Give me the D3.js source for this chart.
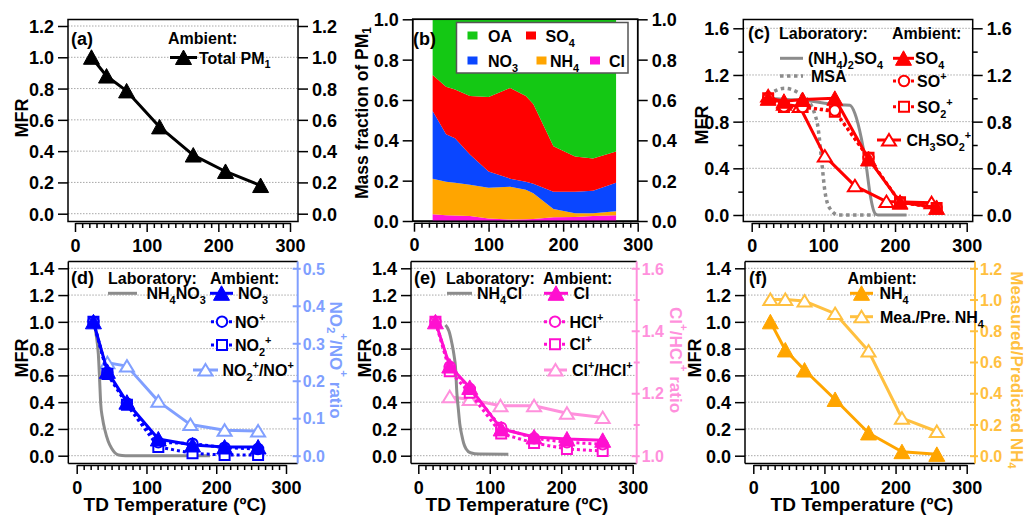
<!DOCTYPE html>
<html><head><meta charset="utf-8">
<script src="https://cdn.jsdelivr.net/npm/d3@7"></script>
<style>
body{margin:0;background:#fff}
svg{display:block}
text{font-family:"Liberation Sans",Arial,sans-serif;font-weight:bold}
</style>
</head><body>
<script>
// ================= DATA =================
const xTickValues = [0, 100, 200, 300];
const mfrTicksA = [0, 0.2, 0.4, 0.6, 0.8, 1.0, 1.2];
const fracTicksB = [0, 0.2, 0.4, 0.6, 0.8, 1.0];
const mfrTicksC = [0, 0.4, 0.8, 1.2, 1.6];
const mfrMinorC = [0.2, 0.6, 1.0, 1.4];
const mfrTicksLow = [0, 0.2, 0.4, 0.6, 0.8, 1.0, 1.2, 1.4];
const ratioTicksD = [0, 0.1, 0.2, 0.3, 0.4, 0.5];
const ratioTicksE = [1.0, 1.2, 1.4, 1.6];
const ratioMinorE = [1.1, 1.3, 1.5];
const ratioTicksF = [0, 0.2, 0.4, 0.6, 0.8, 1.0, 1.2];

// (a) total PM1
const tempA = [23, 44, 72, 118, 165, 210, 259];
const totalPM1 = [1.0, 0.88, 0.785, 0.555, 0.375, 0.27, 0.18];

// (b) mass fractions
const speciesB = ["Cl", "NH4", "NO3", "SO4", "OA"];
const tempB = [25, 43, 55, 75, 100, 129, 150, 160, 187, 216, 240, 271];
const fracCl  = [.033, .028, .027, .025, .013, .008, .009, .010, .018, .020, .025, .028];
const fracNH4 = [.177, .167, .163, .155, .152, .162, .146, .127, .042, .018, .013, .020];
const fracNO3 = [.335, .235, .220, .150, .080, .040, .040, .048, .085, .107, .112, .142];
const fracSO4 = [.179, .235, .242, .290, .370, .450, .425, .395, .225, .175, .160, .155];
const fracOA  = [.276, .335, .348, .380, .385, .340, .380, .420, .630, .680, .690, .655];

// (c) sulfate
const tempC = [23, 45, 71, 116, 163, 207, 258];
const so4C = [1.0, 0.975, 0.99, 1.0, 0.48, 0.11, 0.065];
const soPlusC = [1.0, 0.93, 0.925, 0.895, 0.49, 0.11, 0.06];
const so2PlusC = [1.0, 0.925, 0.925, 0.885, 0.49, 0.11, 0.06];
const tempCH3 = [23, 45, 67, 102, 144, 188, 251];
const ch3so2C = [1.02, 0.95, 0.93, 0.505, 0.25, 0.115, 0.105];
const tempAS = [23, 50, 79, 102, 125, 137, 144, 153, 160, 165, 172, 176, 216];
const labAS = [1.0, 0.99, 0.98, 0.957, 0.943, 0.94, 0.87, 0.657, 0.414, 0.186, 0.014, 0.0, 0.0];
const tempMSA = [23, 35, 46, 67, 80, 86, 93, 98, 102, 109, 121, 172];
const labMSA = [1.03, 1.07, 1.086, 1.04, 0.97, 0.9, 0.73, 0.44, 0.21, 0.057, 0.0, 0.0];

// (d) nitrate
const tempD = [24, 44, 72, 117, 166, 212, 260];
const no3D = [1.0, 0.63, 0.40, 0.125, 0.08, 0.065, 0.065];
const noPlusD = [1.0, 0.62, 0.39, 0.10, 0.09, 0.06, 0.05];
const no2PlusD = [1.0, 0.61, 0.38, 0.065, 0.018, 0.005, 0.005];
const tempRatioD = [44, 72, 117, 163, 212, 260];
const ratioD = [0.248, 0.239, 0.145, 0.083, 0.068, 0.066];
const tempAN = [25, 28, 31, 33, 34.4, 37, 40.5, 45, 50, 55, 60, 70, 100, 191];
const labAN = [1.0, 0.9, 0.76, 0.55, 0.39, 0.28, 0.19, 0.11, 0.055, 0.02, 0.005, 0.0, 0.0, 0.0];

// (e) chloride
const tempE = [24, 44, 72, 116, 162, 208, 258];
const clE = [1.0, 0.67, 0.51, 0.20, 0.14, 0.125, 0.115];
const hclPlusE = [1.0, 0.665, 0.50, 0.21, 0.13, 0.10, 0.085];
const clPlusE = [1.0, 0.63, 0.47, 0.165, 0.095, 0.05, 0.035];
const tempRatioE = [44, 72, 115, 162, 208, 258];
const ratioE = [1.189, 1.18, 1.16, 1.16, 1.136, 1.122];
const tempACl = [38, 43, 47, 50, 52, 54, 56, 58, 61, 63.5, 67, 73, 85, 126];
const labACl = [0.976, 0.93, 0.84, 0.75, 0.665, 0.466, 0.35, 0.24, 0.15, 0.093, 0.05, 0.022, 0.012, 0.01];

// (f) ammonium
const tempF = [24, 45, 72, 115, 162, 209, 258];
const nh4F = [1.0, 0.79, 0.64, 0.42, 0.17, 0.03, 0.01];
const meaPreF = [1.0, 1.0, 0.99, 0.91, 0.67, 0.24, 0.155];

// ================= STYLE =================
const COL = {
  gray: "#8c8c8c", red: "#ff0000", blue: "#0000ff", lblue: "#809fff",
  mag: "#ff10d0", lpink: "#ff90dc", orange: "#ffa500", lorange: "#ffc040",
  OA: "#14c814", SO4: "#ff0000", NO3: "#0a46ff", NH4: "#ffa500", Cl: "#ff14dc"
};
const FS_TICK = 18, FS_RTICK = 16, FS_LEG = 16, FS_TITLE = 19;

const svg = d3.select("body").append("svg").attr("width", 1025).attr("height", 517);

// rich text: _{sub} and ^{sup}
function rich(t, s, fs) {
  const parts = s.split(/(_\{[^}]*\}|\^\{[^}]*\})/).filter(p => p !== "");
  let shift = 0;
  parts.forEach(p => {
    let target = 0, content = p, small = false;
    if (p.startsWith("_{")) { target = fs * 0.3; content = p.slice(2, -1); small = true; }
    else if (p.startsWith("^{")) { target = -fs * 0.45; content = p.slice(2, -1); small = true; }
    const ts = t.append("tspan").text(content);
    if (target - shift !== 0) ts.attr("dy", target - shift);
    if (small) ts.attr("font-size", fs * 0.68);
    shift = target;
  });
  return t;
}
function txt(g, x, y, s, o = {}) {
  const fs = o.fs || FS_LEG;
  const t = g.append("text").attr("x", x).attr("y", y).attr("font-size", fs)
    .attr("fill", o.color || "#000").attr("text-anchor", o.anchor || "start");
  if (o.rotate) t.attr("transform", `rotate(${o.rotate},${x},${y})`);
  if (o.db) t.attr("dominant-baseline", o.db);
  return rich(t, s, fs);
}

function markerPath(m) {
  if (m === "tri") return "M0,-7.5L8,7L-8,7Z";
  if (m === "otri") return "M0,-6L7,5.5L-7,5.5Z";
  if (m === "circ") return "M5.2,0A5.2,5.2 0 1,1 -5.2,0A5.2,5.2 0 1,1 5.2,0Z";
  if (m === "sq") return "M-5,-5H5V5H-5Z";
  return "";
}
function drawMarkers(g, pts, st) {
  const filled = st.marker === "tri";
  g.selectAll(null).data(pts).join("path")
    .attr("transform", d => `translate(${d[0]},${d[1]})`)
    .attr("d", markerPath(st.marker))
    .attr("fill", filled ? st.color : "#fff")
    .attr("stroke", st.color).attr("stroke-width", filled ? 1 : 2)
    .attr("stroke-linejoin", "miter");
}
function series(g, x, y, xs, ys, st) {
  const data = xs.map((v, i) => [v, ys[i]]);
  g.append("path").datum(data)
    .attr("d", d3.line().x(d => x(d[0])).y(d => y(d[1])).curve(st.curve || d3.curveLinear))
    .attr("fill", "none").attr("stroke", st.color).attr("stroke-width", st.w || 3)
    .attr("stroke-dasharray", st.dash || null).attr("stroke-linejoin", "round");
  if (st.marker) drawMarkers(g, data.map(d => [x(d[0]), y(d[1])]), st);
}
function legendItem(g, x1, x2, yy, st, label, tx) {
  g.append("line").attr("x1", x1).attr("x2", x2).attr("y1", yy).attr("y2", yy)
    .attr("stroke", st.color).attr("stroke-width", st.w || 3).attr("stroke-dasharray", st.dash || null);
  if (st.marker) drawMarkers(g, [[(x1 + x2) / 2, yy]], st);
  txt(g, tx, yy + 6, label, { fs: FS_LEG });
}

function panel(p) {
  const g = svg.append("g");
  const x = d3.scaleLinear().domain([0, 300]).range(p.xr);
  const y = d3.scaleLinear().domain(p.yd).range(p.yr);
  if (p.grid) {
    g.selectAll(null).data(p.yTicks).join("line")
      .attr("x1", p.fx0).attr("x2", p.fx1).attr("y1", d => y(d)).attr("y2", d => y(d))
      .attr("stroke", "#a8a8a8").attr("stroke-width", 1).attr("stroke-dasharray", "1.5,1.5");
  }
  const ax = g.append("g").attr("transform", `translate(0,${p.fy1 + 1.5})`)
    .call(d3.axisBottom(x).tickValues(d3.range(0, 301, 10)).tickSize(5).tickSizeOuter(0)
      .tickFormat(d => (xTickValues.includes(d) ? d : "")));
  ax.select(".domain").attr("stroke", "#000").attr("stroke-width", 1.5);
  ax.selectAll(".tick line").attr("stroke", "#000").attr("stroke-width", 1.5)
    .attr("y2", d => (xTickValues.includes(d) ? 9 : 5));
  ax.selectAll(".tick text").attr("y", 28.5).attr("dy", null).attr("fill", "#000")
    .attr("font-size", FS_TICK).attr("font-family", null);
  const fmt = d3.format(".1f");
  const ly = g.append("g").attr("transform", `translate(${p.fx0},0)`)
    .call(d3.axisLeft(y).tickValues(p.yTicks).tickSize(10).tickPadding(4).tickFormat(fmt));
  ly.select(".domain").remove();
  ly.selectAll(".tick line").attr("stroke", "#000").attr("stroke-width", 1.5);
  ly.selectAll(".tick text").attr("fill", "#000").attr("font-size", FS_TICK).attr("font-family", null).attr("dy", "0.36em");
  if (p.yMinor) {
    const lm = g.append("g").attr("transform", `translate(${p.fx0},0)`)
      .call(d3.axisLeft(y).tickValues(p.yMinor).tickSize(5).tickFormat(""));
    lm.select(".domain").remove();
    lm.selectAll(".tick line").attr("stroke", "#000").attr("stroke-width", 1.5);
  }
  if (p.right) {
    const r = p.right;
    const yr = d3.scaleLinear().domain(r.yd).range(r.yr);
    const col = r.color;
    g.append("line").attr("x1", p.fx0).attr("x2", p.fx1).attr("y1", p.fy0).attr("y2", p.fy0).attr("stroke", "#000").attr("stroke-width", 1.5);
    g.append("line").attr("x1", p.fx0).attr("x2", p.fx1).attr("y1", p.fy1).attr("y2", p.fy1).attr("stroke", "#000").attr("stroke-width", 1.5);
    g.append("line").attr("x1", p.fx0).attr("x2", p.fx0).attr("y1", p.fy0).attr("y2", p.fy1).attr("stroke", "#000").attr("stroke-width", 1.5);
    g.append("line").attr("x1", p.fx1).attr("x2", p.fx1).attr("y1", p.fy0).attr("y2", p.fy1).attr("stroke", col).attr("stroke-width", 2);
    const ra = g.append("g").attr("transform", `translate(${p.fx1},0)`)
      .call(d3.axisRight(yr).tickValues(r.ticks).tickSize(4).tickPadding(4).tickFormat(fmt));
    ra.select(".domain").remove();
    ra.selectAll(".tick line").attr("stroke", col).attr("stroke-width", 2).attr("x1", -5).attr("x2", 3);
    ra.selectAll(".tick text").attr("fill", col).attr("font-size", FS_RTICK).attr("font-family", null).attr("dy", "0.36em").attr("x", 5);
    if (r.minor) {
      const rm = g.append("g").attr("transform", `translate(${p.fx1},0)`)
        .call(d3.axisRight(yr).tickValues(r.minor).tickSize(3).tickFormat(""));
      rm.select(".domain").remove();
      rm.selectAll(".tick line").attr("stroke", col).attr("stroke-width", 2).attr("x1", -3);
    }
    p.yRight = yr;
  } else {
    g.append("rect").attr("x", p.fx0).attr("y", p.fy0).attr("width", p.fx1 - p.fx0).attr("height", p.fy1 - p.fy0)
      .attr("fill", "none").attr("stroke", "#000").attr("stroke-width", 1.5);
    const ry = g.append("g").attr("transform", `translate(${p.fx1},0)`)
      .call(d3.axisRight(y).tickValues(p.yTicks).tickSize(10).tickPadding(4).tickFormat(fmt));
    ry.select(".domain").remove();
    ry.selectAll(".tick line").attr("stroke", "#000").attr("stroke-width", 1.5);
    ry.selectAll(".tick text").attr("fill", "#000").attr("font-size", FS_TICK).attr("font-family", null).attr("dy", "0.36em");
    if (p.yMinor) {
      const rm = g.append("g").attr("transform", `translate(${p.fx1},0)`)
        .call(d3.axisRight(y).tickValues(p.yMinor).tickSize(5).tickFormat(""));
      rm.select(".domain").remove();
      rm.selectAll(".tick line").attr("stroke", "#000").attr("stroke-width", 1.5);
    }
  }
  const plot = g.append("g");
  return { g, plot, x, y, yr: p.yRight };
}

// ================= PANEL (a) =================
{
  const P = panel({ fx0: 68, fx1: 298, fy0: 19.5, fy1: 221.5, xr: [75, 290], yd: [0, 1.2], yr: [213.7, 26], yTicks: mfrTicksA, grid: true });
  series(P.plot, P.x, P.y, tempA, totalPM1, { color: "#000", w: 3, marker: "tri" });
  txt(P.g, 71, 45, "(a)", { fs: 18 });
  txt(P.g, 168, 44, "Ambient:");
  legendItem(P.g, 170, 197, 57.5, { color: "#000", w: 3, marker: "tri" }, "Total PM_{1}", 199);
  txt(P.g, 22, 118, "MFR", { fs: 18, anchor: "middle", rotate: -90, db: "central" });
}

// ================= PANEL (b) =================
{
  const P = panel({ fx0: 412.7, fx1: 637.7, fy0: 19.3, fy1: 221.2, xr: [414, 637.7], yd: [0, 1], yr: [221, 19.3], yTicks: fracTicksB, grid: false });
  const fr = { Cl: fracCl, NH4: fracNH4, NO3: fracNO3, SO4: fracSO4, OA: fracOA };
  const rows = tempB.map((t, i) => { const r = { t }; speciesB.forEach(k => r[k] = fr[k][i]); return r; });
  const stacked = d3.stack().keys(speciesB)(rows);
  const area = d3.area().x(d => P.x(d.data.t)).y0(d => P.y(d[0])).y1(d => P.y(d[1]));
  P.plot.selectAll(null).data(stacked).join("path").attr("d", area).attr("fill", d => COL[d.key]);
  P.g.append("rect").attr("x", 412.7).attr("y", 19.3).attr("width", 225).attr("height", 201.9).attr("fill", "none").attr("stroke", "#000").attr("stroke-width", 1.5);
  txt(P.g, 413, 45, "(b)", { fs: 18 });
  const lg = P.g.append("g");
  lg.append("rect").attr("x", 456.5).attr("y", 22.5).attr("width", 171.5).attr("height", 50.5).attr("fill", "#fff").attr("stroke", "#555").attr("stroke-width", 1.5);
  const legB = [
    ["OA", "OA", 467.5, 488, 36], ["SO4", "SO_{4}", 526, 545.5, 36],
    ["NO3", "NO_{3}", 467.5, 488, 61], ["NH4", "NH_{4}", 536.5, 550, 61], ["Cl", "Cl", 590, 609, 61]
  ];
  legB.forEach(([k, lab, sx, tx, yy]) => {
    lg.append("rect").attr("x", sx).attr("y", yy - 4.5).attr("width", 10).attr("height", 8).attr("fill", COL[k]);
    txt(lg, tx, yy + 6, lab, { fs: FS_LEG });
  });
  txt(P.g, 362, 113, "Mass fraction of PM_{1}", { fs: 17.5, anchor: "middle", rotate: -90, db: "central" });
}

// ================= PANEL (c) =================
{
  const P = panel({ fx0: 743.3, fx1: 972.7, fy0: 19.5, fy1: 221.5, xr: [751.7, 966.7], yd: [0, 1.6], yr: [215, 28.3], yTicks: mfrTicksC, yMinor: mfrMinorC, grid: true });
  series(P.plot, P.x, P.y, tempAS, labAS, { color: COL.gray, w: 3, curve: d3.curveMonotoneX });
  series(P.plot, P.x, P.y, tempMSA, labMSA, { color: COL.gray, w: 3.5, dash: "3.5,3.5", curve: d3.curveMonotoneX });
  series(P.plot, P.x, P.y, tempCH3, ch3so2C, { color: COL.red, w: 3, marker: "otri" });
  series(P.plot, P.x, P.y, tempC, so2PlusC, { color: COL.red, w: 3, dash: "3,3", marker: "sq" });
  series(P.plot, P.x, P.y, tempC, soPlusC, { color: COL.red, w: 3, dash: "3,3", marker: "circ" });
  series(P.plot, P.x, P.y, tempC, so4C, { color: COL.red, w: 3, marker: "tri" });
  txt(P.g, 748, 38.5, "(c)", { fs: 18 });
  txt(P.g, 779, 38.5, "Laboratory:");
  txt(P.g, 892, 38.5, "Ambient:");
  legendItem(P.g, 780, 803, 58.3, { color: COL.gray, w: 3 }, "(NH_{4})_{2}SO_{4}", 808);
  legendItem(P.g, 780, 803, 76, { color: COL.gray, w: 3.5, dash: "3.5,3.5" }, "MSA", 811);
  legendItem(P.g, 893, 914, 58.3, { color: COL.red, w: 3, marker: "tri" }, "SO_{4}", 915);
  legendItem(P.g, 893, 915, 81, { color: COL.red, w: 3, dash: "3,3", marker: "circ" }, "SO^{+}", 917);
  legendItem(P.g, 893, 915, 106.7, { color: COL.red, w: 3, dash: "3,3", marker: "sq" }, "SO_{2}^{+}", 917);
  legendItem(P.g, 877, 901, 140, { color: COL.red, w: 3, marker: "otri" }, "CH_{3}SO_{2}^{+}", 906.5);
  txt(P.g, 702, 125, "MFR", { fs: 18, anchor: "middle", rotate: -90, db: "central" });
}

// ================= PANEL (d) =================
{
  const P = panel({ fx0: 68.3, fx1: 297.7, fy0: 261.5, fy1: 463.5, xr: [76.7, 286], yd: [0, 1.4], yr: [455.7, 268.3], yTicks: mfrTicksLow, grid: true,
    right: { yd: [0, 0.5], yr: [455.7, 268.3], ticks: ratioTicksD, color: COL.lblue } });
  series(P.plot, P.x, P.yr, tempRatioD, ratioD, { color: COL.lblue, w: 3, marker: "otri" });
  series(P.plot, P.x, P.y, tempAN, labAN, { color: COL.gray, w: 3, curve: d3.curveMonotoneX });
  series(P.plot, P.x, P.y, tempD, no2PlusD, { color: COL.blue, w: 3, dash: "3,3", marker: "sq" });
  series(P.plot, P.x, P.y, tempD, noPlusD, { color: COL.blue, w: 3, dash: "3,3", marker: "circ" });
  series(P.plot, P.x, P.y, tempD, no3D, { color: COL.blue, w: 3, marker: "tri" });
  txt(P.g, 71, 283.5, "(d)", { fs: 18 });
  txt(P.g, 108, 283.5, "Laboratory:");
  txt(P.g, 210, 283.5, "Ambient:");
  legendItem(P.g, 108, 137, 293.3, { color: COL.gray, w: 3 }, "NH_{4}NO_{3}", 146.5);
  legendItem(P.g, 210, 233, 293.3, { color: COL.blue, w: 3, marker: "tri" }, "NO_{3}", 238);
  legendItem(P.g, 211, 233, 321.7, { color: COL.blue, w: 3, dash: "3,3", marker: "circ" }, "NO^{+}", 235);
  legendItem(P.g, 211, 233, 345, { color: COL.blue, w: 3, dash: "3,3", marker: "sq" }, "NO_{2}^{+}", 235);
  legendItem(P.g, 193, 218, 370, { color: COL.lblue, w: 3, marker: "otri" }, "NO_{2}^{+}/NO^{+}", 222.5);
  txt(P.g, 22, 358, "MFR", { fs: 18, anchor: "middle", rotate: -90, db: "central" });
  txt(P.g, 175, 510.5, "TD Temperature (ºC)", { fs: FS_TITLE, anchor: "middle" });
  txt(P.g, 336, 360, "NO_{2}^{+}/NO^{+} ratio", { fs: 17, anchor: "middle", rotate: 90, db: "central", color: COL.lblue });
}

// ================= PANEL (e) =================
{
  const P = panel({ fx0: 411, fx1: 636.7, fy0: 261.5, fy1: 463.5, xr: [418.3, 632.7], yd: [0, 1.4], yr: [455.7, 268.3], yTicks: mfrTicksLow, grid: true,
    right: { yd: [1.0, 1.6], yr: [455.7, 268.3], ticks: ratioTicksE, minor: ratioMinorE, color: COL.lpink } });
  series(P.plot, P.x, P.yr, tempRatioE, ratioE, { color: COL.lpink, w: 3, marker: "otri" });
  series(P.plot, P.x, P.y, tempACl, labACl, { color: COL.gray, w: 3, curve: d3.curveMonotoneX });
  series(P.plot, P.x, P.y, tempE, clPlusE, { color: COL.mag, w: 3, dash: "3,3", marker: "sq" });
  series(P.plot, P.x, P.y, tempE, hclPlusE, { color: COL.mag, w: 3, dash: "3,3", marker: "circ" });
  series(P.plot, P.x, P.y, tempE, clE, { color: COL.mag, w: 3, marker: "tri" });
  txt(P.g, 414, 283.5, "(e)", { fs: 18 });
  txt(P.g, 446, 283.5, "Laboratory:");
  txt(P.g, 543, 283.5, "Ambient:");
  legendItem(P.g, 447, 472, 293.3, { color: COL.gray, w: 3 }, "NH_{4}Cl", 477);
  legendItem(P.g, 544, 568, 293.3, { color: COL.mag, w: 3, marker: "tri" }, "Cl", 573.5);
  legendItem(P.g, 544, 566, 321.7, { color: COL.mag, w: 3, dash: "3,3", marker: "circ" }, "HCl^{+}", 569.5);
  legendItem(P.g, 544, 566, 344.3, { color: COL.mag, w: 3, dash: "3,3", marker: "sq" }, "Cl^{+}", 569.5);
  legendItem(P.g, 544, 567, 370, { color: COL.lpink, w: 3, marker: "otri" }, "Cl^{+}/HCl^{+}", 572);
  txt(P.g, 365, 358, "MFR", { fs: 18, anchor: "middle", rotate: -90, db: "central" });
  txt(P.g, 517, 510.5, "TD Temperature (ºC)", { fs: FS_TITLE, anchor: "middle" });
  txt(P.g, 676, 360, "Cl^{+}/HCl^{+} ratio", { fs: 17, anchor: "middle", rotate: 90, db: "central", color: COL.lpink });
}

// ================= PANEL (f) =================
{
  const P = panel({ fx0: 745, fx1: 975, fy0: 261.5, fy1: 463.5, xr: [753.3, 966.7], yd: [0, 1.4], yr: [455.7, 268.3], yTicks: mfrTicksLow, grid: true,
    right: { yd: [0, 1.2], yr: [455.7, 268.3], ticks: ratioTicksF, color: COL.lorange } });
  series(P.plot, P.x, P.yr, tempF, meaPreF, { color: COL.lorange, w: 3, marker: "otri" });
  series(P.plot, P.x, P.y, tempF, nh4F, { color: COL.orange, w: 3, marker: "tri" });
  txt(P.g, 749, 283.5, "(f)", { fs: 18 });
  txt(P.g, 847.5, 283.5, "Ambient:");
  legendItem(P.g, 850, 873, 293.3, { color: COL.orange, w: 3, marker: "tri" }, "NH_{4}", 879.5);
  legendItem(P.g, 850, 873, 316.7, { color: COL.lorange, w: 3, marker: "otri" }, "Mea./Pre. NH_{4}", 880);
  txt(P.g, 695, 358, "MFR", { fs: 18, anchor: "middle", rotate: -90, db: "central" });
  txt(P.g, 862, 510.5, "TD Temperature (ºC)", { fs: FS_TITLE, anchor: "middle" });
  txt(P.g, 1017, 370, "Measured/Predicted NH_{4}", { fs: 17, anchor: "middle", rotate: 90, db: "central", color: COL.lorange });
}
</script>
</body></html>
